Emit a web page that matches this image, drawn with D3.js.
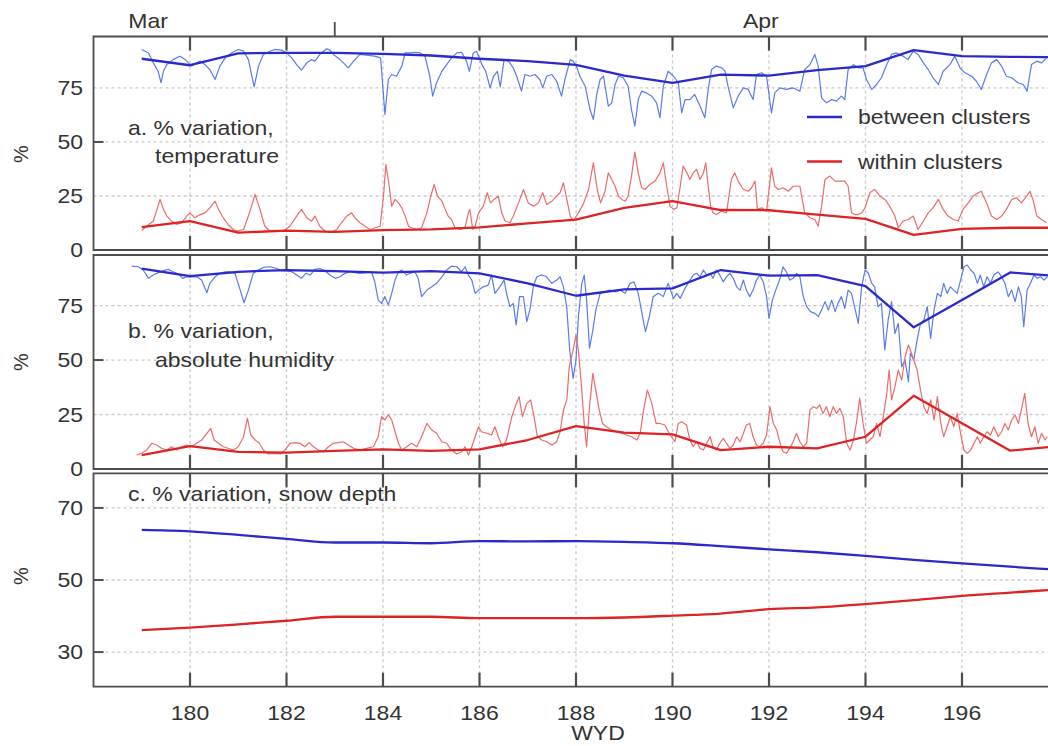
<!DOCTYPE html>
<html>
<head>
<meta charset="utf-8">
<script src="https://cdn.jsdelivr.net/npm/d3@7"></script>
<style>
  body { margin: 0; background: #fff; overflow: hidden; }
  text { font-family: "Liberation Sans", Arial, sans-serif; font-size: 20px; fill: #333; }
</style>
</head>
<body>
<script>
// ---- data ----
const dailyDays = [179, 180, 181, 182, 183, 184, 185, 186, 187, 188, 189, 190, 191, 192, 193, 194, 195, 196, 197, 198];
const xTicks = [180, 182, 184, 186, 188, 190, 192, 194, 196];
const monthTicks = [183];
const monthNames = ["Mar", "Apr"];
const monthNameDays = [178.72, 191.46];

// a. temperature
const tempBetweenDaily = [88.5, 85.5, 91.0, 91.2, 91.2, 90.8, 90.0, 88.5, 87.4, 85.7, 80.7, 77.3, 81.2, 80.7, 83.2, 85.1, 92.5, 89.7, 89.4, 89.2];
const tempWithinDaily = [10.6, 13.4, 8.0, 9.0, 8.4, 9.2, 9.5, 10.5, 12.3, 14.1, 19.5, 22.6, 18.5, 18.4, 16.4, 14.4, 7.0, 9.8, 10.3, 10.3];
const tempBetweenHourly = [
  [179.00,92.8],[179.14,91.2],[179.24,86.6],[179.34,82.7],[179.40,77.4],[179.45,82.7],[179.52,85.8],[179.65,88.1],[179.79,89.7],[179.90,88.1],[179.97,86.6],[180.03,85.1],[180.14,86.6],[180.21,87.4],[180.31,85.8],[180.41,83.5],[180.52,78.9],[180.62,85.1],[180.73,88.9],[180.86,91.2],[181.00,92.8],[181.11,92.0],[181.21,88.1],[181.33,75.5],[181.42,85.1],[181.52,90.5],[181.66,92.0],[181.76,92.8],[181.90,92.5],[182.00,91.2],[182.11,88.9],[182.21,85.8],[182.31,83.2],[182.42,86.6],[182.52,88.1],[182.59,87.4],[182.69,90.5],[182.83,93.1],[182.90,92.5],[182.97,90.5],[183.07,88.9],[183.18,86.6],[183.28,84.3],[183.39,87.4],[183.52,90.5],
  [183.83,89.7],[183.95,88.9],[184.04,62.7],[184.11,78.9],[184.18,81.2],[184.28,80.4],[184.39,85.1],[184.46,91.2],[184.56,91.2],[184.66,91.5],[184.77,91.2],[184.87,89.7],[184.97,80.4],[185.03,71.2],[185.11,77.4],[185.22,82.7],[185.32,85.8],[185.42,88.9],[185.53,91.2],[185.63,91.5],[185.73,87.4],[185.79,82.7],[185.87,91.2],[185.94,92.0],[186.05,85.8],[186.13,82.7],[186.22,75.0],[186.29,80.4],[186.37,82.7],[186.43,75.5],[186.51,88.1],[186.60,87.4],[186.70,84.3],[186.77,80.4],[186.87,73.5],[186.94,81.2],[187.05,80.4],[187.15,81.2],[187.25,78.9],[187.31,75.0],[187.39,80.4],[187.50,81.2],[187.60,78.1],[187.70,71.2],[187.77,78.9],[187.88,88.1],[187.94,87.4],[188.01,85.1],[188.08,80.4],[188.19,75.8],[188.29,65.0],[188.36,60.4],[188.43,72.0],[188.50,78.9],[188.57,80.4],[188.67,66.6],[188.74,68.1],[188.81,76.6],[188.88,80.4],[188.98,79.7],[189.08,75.8],[189.15,65.0],[189.22,57.3],[189.29,69.6],[189.36,73.5],[189.46,72.7],[189.57,71.2],[189.67,68.1],[189.74,61.2],[189.81,75.8],[189.91,82.7],[190.02,80.4],[190.12,77.4],[190.19,63.5],[190.26,69.6],
  [190.36,69.6],[190.46,72.0],[190.57,66.6],[190.67,61.2],[190.74,74.3],[190.81,83.5],[190.91,85.1],[191.02,84.3],[191.09,82.7],[191.15,75.8],[191.26,65.8],[191.36,71.2],[191.47,75.0],[191.57,74.3],[191.67,69.6],[191.74,81.2],[191.85,82.0],[191.95,80.4],[192.05,63.5],[192.12,72.7],[192.23,75.0],[192.36,74.3],[192.50,75.0],[192.64,73.5],[192.74,83.5],[192.85,85.8],[192.95,90.5],[193.02,85.1],[193.09,70.4],[193.19,68.1],[193.30,69.6],[193.40,68.9],[193.50,71.2],[193.57,69.6],[193.64,83.5],[193.75,85.8],[193.85,84.3],[193.95,84.3],[194.02,78.9],[194.13,74.3],[194.23,76.6],[194.33,79.7],[194.44,85.8],[194.54,90.5],[194.64,91.2],[194.78,89.7],[194.88,88.1],[194.99,92.0],[195.09,90.5],[195.20,86.6],[195.30,83.5],[195.40,79.7],[195.51,76.6],[195.61,82.7],[195.75,85.8],[195.85,89.7],[195.96,84.3],[196.06,82.0],[196.20,80.4],[196.30,78.1],[196.40,74.3],[196.51,81.2],[196.61,86.6],[196.72,88.1],[196.82,85.1],[196.92,80.4],[197.03,79.7],[197.16,77.4],[197.27,76.6],[197.35,73.5],[197.44,85.8],[197.55,87.4],[197.65,86.6],[197.75,88.9]
];
const tempWithinHourly = [
  [179.00,9.0],[179.10,11.0],[179.24,13.4],[179.38,23.4],[179.45,18.8],[179.52,15.7],[179.62,13.4],[179.72,11.8],[179.83,12.6],[179.93,15.7],[180.00,17.2],[180.10,14.9],[180.21,16.4],[180.31,17.2],[180.41,19.5],[180.52,22.6],[180.59,18.8],[180.69,14.9],[180.79,11.8],[180.90,9.5],[180.97,8.7],[181.11,9.5],[181.21,15.7],[181.35,25.7],[181.45,18.8],[181.55,11.0],[181.66,8.7],[181.80,8.7],[181.93,8.7],[182.07,11.0],[182.21,15.7],[182.31,18.8],[182.42,14.9],[182.52,13.4],[182.59,15.7],[182.69,11.0],[182.80,8.7],[182.90,8.0],[183.04,9.5],[183.14,12.6],[183.25,15.7],[183.35,17.2],[183.42,14.9],[183.52,12.6],
  [183.73,9.5],[183.94,11.0],[184.01,24.9],[184.06,39.6],[184.13,29.5],[184.18,20.3],[184.25,23.4],[184.32,21.8],[184.39,19.5],[184.46,15.7],[184.53,11.0],[184.59,10.3],[184.70,9.5],[184.80,10.3],[184.91,17.2],[184.99,24.9],[185.06,30.3],[185.13,24.9],[185.22,22.6],[185.29,18.8],[185.35,15.7],[185.42,14.1],[185.49,10.3],[185.60,9.5],[185.70,10.3],[185.77,17.2],[185.80,18.8],[185.86,9.5],[185.91,11.0],[185.98,17.2],[186.08,20.3],[186.16,26.5],[186.23,21.8],[186.30,23.4],[186.39,24.9],[186.46,17.2],[186.53,13.4],[186.63,12.6],[186.70,15.7],[186.81,21.8],[186.91,28.0],[187.01,21.8],[187.12,20.3],[187.22,21.8],[187.31,26.5],[187.39,21.1],[187.50,22.6],[187.60,24.9],[187.67,26.5],[187.74,31.1],[187.81,23.4],[187.88,15.7],[187.94,13.4],[188.05,17.2],[188.15,21.1],[188.26,28.0],[188.36,40.3],[188.44,28.0],[188.51,21.8],[188.60,27.2],[188.67,35.7],[188.74,32.6],[188.81,29.5],[188.88,24.9],[188.95,23.4],[189.02,22.6],[189.08,24.9],[189.15,34.2],[189.22,45.3],[189.29,35.7],[189.36,28.8],[189.43,28.0],[189.53,30.3],[189.64,31.9],[189.74,35.7],[189.81,40.3],[189.88,29.5],[189.95,20.3],[190.02,18.8],[190.09,19.5],[190.16,29.5],[190.22,38.8],[190.30,35.7],
  [190.36,32.6],[190.43,35.7],[190.50,37.3],[190.57,32.6],[190.64,35.7],[190.69,40.3],[190.74,29.5],[190.79,20.3],[190.84,17.2],[190.91,16.4],[191.02,18.0],[191.12,17.2],[191.18,26.5],[191.22,32.6],[191.29,35.7],[191.36,31.9],[191.47,28.0],[191.57,27.2],[191.64,28.8],[191.71,31.9],[191.76,18.8],[191.85,19.5],[191.95,18.0],[192.05,38.0],[192.12,29.5],[192.19,28.0],[192.29,28.8],[192.40,27.2],[192.50,29.5],[192.64,29.5],[192.74,17.2],[192.85,14.9],[192.95,14.1],[193.02,11.0],[193.09,20.3],[193.16,32.6],[193.26,34.2],[193.37,31.9],[193.47,31.9],[193.57,31.9],[193.64,29.5],[193.71,17.2],[193.78,16.4],[193.85,16.4],[193.92,17.2],[193.99,19.5],[194.09,26.5],[194.19,28.0],[194.30,24.9],[194.40,23.4],[194.50,20.3],[194.61,15.7],[194.68,10.3],[194.78,13.4],[194.89,14.1],[194.99,15.7],[195.09,9.5],[195.20,13.4],[195.30,17.2],[195.40,19.5],[195.51,23.4],[195.61,18.8],[195.71,15.7],[195.82,14.1],[195.92,13.4],[196.02,18.8],[196.13,21.8],[196.23,24.9],[196.34,26.5],[196.40,27.2],[196.51,21.8],[196.61,15.7],[196.72,14.1],[196.82,15.7],[196.92,18.8],[197.03,23.4],[197.13,24.2],[197.23,21.8],[197.34,24.9],[197.41,27.2],[197.48,22.6],[197.55,15.7],[197.65,14.1],[197.75,12.6]
];

// b. absolute humidity
const humidBetweenDaily = [92.0, 88.5, 90.5, 91.3, 90.8, 90.1, 90.8, 89.8, 85.2, 79.5, 82.4, 82.9, 91.3, 88.7, 89.0, 83.9, 65.0, 77.5, 90.2, 88.5];
const humidWithinDaily = [6.4, 10.5, 7.9, 7.5, 8.3, 9.0, 8.3, 9.0, 13.3, 19.7, 16.7, 15.9, 8.7, 10.2, 9.5, 14.8, 33.6, 21.0, 8.4, 10.5];
const humidBetweenHourly = [
  [178.79,93.1],[178.93,92.8],[179.03,91.3],[179.14,87.5],[179.24,89.0],[179.34,90.1],[179.45,91.0],[179.55,91.6],[179.65,90.5],[179.76,89.5],[179.85,87.5],[179.93,88.2],[180.03,88.2],[180.14,88.2],[180.24,86.7],[180.35,80.9],[180.41,85.2],[180.52,88.2],[180.62,89.8],[180.73,90.5],[180.83,90.5],[180.93,89.8],[181.02,83.6],[181.12,76.3],[181.21,82.1],[181.31,89.8],[181.42,91.3],[181.52,92.5],[181.66,92.8],[181.80,92.0],[181.90,91.0],[182.00,91.0],[182.11,90.5],[182.21,89.0],[182.31,87.5],[182.40,89.8],[182.49,89.0],[182.59,91.6],[182.69,92.0],[182.80,91.0],[182.90,89.0],[183.01,87.5],[183.11,88.2],[183.21,89.8],[183.32,90.5],[183.42,90.1],[183.52,89.8],
  [183.66,90.1],[183.76,90.5],[183.83,85.9],[183.90,77.5],[183.97,76.0],[184.04,79.1],[184.11,75.2],[184.18,80.6],[184.25,86.7],[184.32,90.5],[184.39,91.3],[184.49,89.0],[184.56,89.8],[184.66,90.5],[184.73,87.5],[184.80,79.1],[184.91,82.1],[185.01,83.6],[185.11,85.2],[185.22,88.2],[185.32,91.3],[185.42,93.1],[185.53,92.8],[185.63,90.5],[185.70,92.8],[185.77,89.0],[185.84,86.7],[185.91,80.6],[185.98,82.1],[186.08,83.6],[186.18,84.4],[186.25,89.0],[186.32,80.6],[186.42,83.6],[186.51,86.7],[186.56,80.6],[186.63,74.5],[186.70,76.0],[186.76,66.1],[186.83,79.1],[186.91,79.1],[186.98,67.6],[187.05,73.7],[187.12,84.4],[187.19,88.2],[187.29,89.0],[187.39,88.2],[187.50,85.2],[187.60,86.7],[187.67,88.2],[187.74,83.6],[187.81,73.7],[187.87,54.6],[187.94,41.6],[188.00,50.0],[188.05,69.9],[188.12,85.2],[188.17,89.0],[188.22,77.5],[188.28,55.4],[188.35,63.8],[188.41,72.9],[188.50,80.6],[188.60,81.3],[188.70,82.1],[188.81,81.3],[188.91,82.1],[189.02,80.6],[189.12,85.2],[189.20,85.9],[189.29,80.6],[189.38,69.9],[189.44,63.0],[189.52,69.9],[189.60,79.1],[189.71,80.6],[189.81,79.1],[189.91,85.2],[190.02,78.3],[190.09,80.6],[190.16,78.3],[190.26,82.9],
  [190.36,86.7],[190.43,89.0],[190.50,89.8],[190.57,88.2],[190.64,91.3],[190.71,89.0],[190.78,89.8],[190.84,87.5],[190.91,91.3],[190.98,89.0],[191.05,85.9],[191.12,88.2],[191.19,89.8],[191.26,87.5],[191.33,83.6],[191.40,82.1],[191.47,86.7],[191.53,82.1],[191.60,79.1],[191.67,82.1],[191.74,86.7],[191.81,89.0],[191.88,85.9],[191.95,79.1],[192.00,69.1],[192.07,77.5],[192.14,82.1],[192.23,87.5],[192.29,92.8],[192.36,90.5],[192.43,86.7],[192.50,87.5],[192.57,89.8],[192.64,88.2],[192.71,79.1],[192.78,74.5],[192.86,72.2],[192.95,71.4],[193.02,69.9],[193.09,72.9],[193.16,76.8],[193.23,72.9],[193.30,77.5],[193.37,72.2],[193.43,76.0],[193.50,79.1],[193.57,73.7],[193.64,82.1],[193.71,80.6],[193.78,73.7],[193.85,66.8],[193.92,83.6],[193.99,91.3],[194.06,89.8],[194.13,85.2],[194.19,83.6],[194.26,74.5],[194.33,76.0],[194.40,54.6],[194.47,68.4],[194.54,76.8],[194.61,62.2],[194.68,66.8],[194.75,46.9],[194.82,50.0],[194.89,40.1],[194.93,53.1],[195.00,50.0],[195.07,59.2],[195.14,66.8],[195.21,68.4],[195.28,74.5],[195.35,59.9],[195.42,72.9],[195.49,80.6],[195.56,79.1],[195.62,85.2],[195.69,80.6],[195.76,83.6],[195.83,82.1],[195.90,80.6],[195.97,86.7],[196.04,92.8],[196.11,93.6],[196.18,91.3],[196.25,89.8],[196.32,85.2],[196.38,89.0],[196.45,83.6],[196.52,88.2],[196.59,85.2],[196.66,89.0],[196.75,90.5],[196.82,88.2],[196.89,85.2],[196.96,79.1],[197.03,82.1],[197.10,76.8],[197.17,83.6],[197.23,79.1],[197.28,65.3],[197.35,82.1],[197.42,85.2],[197.49,89.0],[197.56,87.5],[197.63,88.2],[197.70,86.7],[197.77,88.2]
];
const humidWithinHourly = [
  [178.89,6.4],[179.00,7.2],[179.10,8.7],[179.21,11.8],[179.31,11.0],[179.41,9.5],[179.52,8.7],[179.62,10.2],[179.72,8.7],[179.83,10.2],[179.93,11.0],[180.03,10.2],[180.14,11.8],[180.24,13.3],[180.35,16.4],[180.43,18.6],[180.50,13.3],[180.59,11.8],[180.69,10.2],[180.79,9.5],[180.90,8.7],[181.00,10.2],[181.11,14.8],[181.19,23.2],[181.26,15.6],[181.35,13.3],[181.44,11.8],[181.52,8.7],[181.62,6.9],[181.73,7.2],[181.87,6.9],[181.97,8.7],[182.07,11.8],[182.18,12.1],[182.28,11.8],[182.38,10.2],[182.47,12.1],[182.56,10.2],[182.66,8.7],[182.76,7.9],[182.87,10.2],[182.97,11.8],[183.07,12.1],[183.18,12.5],[183.28,11.0],[183.39,9.5],[183.52,8.7],
  [183.66,9.5],[183.80,10.2],[183.90,14.8],[183.97,24.0],[184.04,22.5],[184.11,24.8],[184.18,22.5],[184.25,17.1],[184.32,11.8],[184.39,8.7],[184.49,10.2],[184.59,11.8],[184.70,10.2],[184.80,14.8],[184.91,20.9],[185.01,17.9],[185.11,16.4],[185.22,12.5],[185.32,11.8],[185.42,8.7],[185.53,6.9],[185.63,7.9],[185.70,10.2],[185.77,6.4],[185.84,10.2],[185.91,14.8],[185.98,19.4],[186.04,17.1],[186.15,16.4],[186.25,15.6],[186.32,19.4],[186.39,14.8],[186.48,10.2],[186.56,13.3],[186.67,24.0],[186.74,28.6],[186.82,33.2],[186.89,24.0],[186.98,30.1],[187.06,31.7],[187.13,24.0],[187.20,14.8],[187.29,13.3],[187.39,12.5],[187.50,11.0],[187.60,12.5],[187.67,17.1],[187.74,27.1],[187.81,31.7],[187.86,46.9],[187.94,54.6],[188.00,61.5],[188.05,54.6],[188.12,36.2],[188.17,20.9],[188.22,10.2],[188.28,28.6],[188.35,43.9],[188.41,36.2],[188.48,27.1],[188.55,20.9],[188.63,19.4],[188.74,17.9],[188.84,17.1],[188.95,16.4],[189.05,15.6],[189.15,14.8],[189.26,13.3],[189.33,16.4],[189.40,27.1],[189.48,36.2],[189.57,30.1],[189.66,20.9],[189.74,20.9],[189.84,20.2],[189.95,15.6],[190.05,12.5],[190.12,20.9],[190.19,21.7],[190.29,20.2],
  [190.36,13.3],[190.43,10.2],[190.50,12.5],[190.57,9.5],[190.64,8.7],[190.71,11.8],[190.78,14.8],[190.84,10.2],[190.91,8.7],[190.98,11.8],[191.05,14.1],[191.12,11.8],[191.19,9.5],[191.26,11.0],[191.33,14.8],[191.40,12.5],[191.47,16.4],[191.53,20.2],[191.60,20.9],[191.67,14.8],[191.74,11.0],[191.81,10.2],[191.88,11.8],[191.95,15.6],[192.02,28.6],[192.09,20.9],[192.16,17.9],[192.23,11.8],[192.29,7.9],[192.36,7.2],[192.43,9.5],[192.50,12.5],[192.57,16.4],[192.64,12.5],[192.71,10.2],[192.78,11.8],[192.85,27.1],[192.92,28.6],[192.99,27.8],[193.05,29.4],[193.12,25.5],[193.19,28.6],[193.26,24.0],[193.33,28.6],[193.40,25.5],[193.47,27.8],[193.54,24.0],[193.61,11.8],[193.68,8.7],[193.75,13.3],[193.81,20.9],[193.88,32.4],[193.95,20.9],[194.02,11.8],[194.09,13.3],[194.16,14.8],[194.23,20.9],[194.30,14.8],[194.37,24.0],[194.44,34.7],[194.49,45.4],[194.54,31.7],[194.61,37.8],[194.68,45.4],[194.75,40.8],[194.82,51.5],[194.89,56.9],[194.93,54.6],[195.00,50.0],[195.07,45.4],[195.14,36.2],[195.21,28.6],[195.28,25.5],[195.35,31.7],[195.42,22.5],[195.49,33.2],[195.56,20.9],[195.62,14.8],[195.69,19.4],[195.76,24.0],[195.83,19.4],[195.90,25.5],[195.97,16.4],[196.04,8.7],[196.11,7.2],[196.18,8.7],[196.25,11.8],[196.32,14.8],[196.38,11.8],[196.45,14.8],[196.52,17.1],[196.59,15.6],[196.66,19.4],[196.75,14.8],[196.82,17.1],[196.89,20.9],[196.96,17.9],[197.03,22.5],[197.10,24.8],[197.17,20.9],[197.23,27.1],[197.30,34.7],[197.37,20.9],[197.44,14.8],[197.51,19.4],[197.58,11.8],[197.65,16.4],[197.72,13.3],[197.77,14.8]
];

// c. snow depth
const snowBetweenDaily = [63.9, 63.5, 62.5, 61.4, 60.4, 60.4, 60.2, 60.8, 60.7, 60.8, 60.6, 60.2, 59.4, 58.5, 57.7, 56.7, 55.6, 54.6, 53.7, 52.8];
const snowWithinDaily = [36.1, 36.8, 37.7, 38.7, 39.8, 39.8, 39.8, 39.4, 39.4, 39.4, 39.6, 40.1, 40.7, 41.9, 42.4, 43.3, 44.4, 45.6, 46.5, 47.4];

const legendNames = ["between clusters", "within clusters"];

// ---- styles ----
const blueDaily = "#2a2acc", blueHourly = "#5a7bec";
const redDaily = "#dd2424", redHourly = "#ec6b6b";
const frameColor = "#4d4d4d", gridColor = "#c9c9c9";

const width = 1048, height = 746;
const svg = d3.select("body").append("svg")
    .attr("width", width)
    .attr("height", height);

const xScale = d3.scaleLinear().domain([178, 198]).range([93.5, 1058.5]);
const left = xScale.range()[0];

function daily(values) { return dailyDays.map((d, i) => [d, values[i]]); }

const panels = [
    {id: "a", top: 36.5, bottom: 250, domain: [0, 98.8], labels: [0, 25, 50, 75], grid: [25, 50, 75], marks: [50],
     labelY: 154, title: ["a. % variation,", "temperature"], titleY: [135, 163], curve: d3.curveLinear,
     hourly: [[tempBetweenHourly, blueHourly], [tempWithinHourly, redHourly]],
     daily: [[daily(tempBetweenDaily), blueDaily], [daily(tempWithinDaily), redDaily]]},
    {id: "b", top: 255, bottom: 469, domain: [0, 98.2], labels: [0, 25, 50, 75], grid: [25, 50, 75], marks: [50],
     labelY: 362, title: ["b. % variation,", "absolute humidity"], titleY: [338, 367], curve: d3.curveLinear,
     hourly: [[humidBetweenHourly, blueHourly], [humidWithinHourly, redHourly]],
     daily: [[daily(humidBetweenDaily), blueDaily], [daily(humidWithinDaily), redDaily]]},
    {id: "c", top: 473.3, bottom: 686.7, domain: [20.4, 79.6], labels: [30, 50, 70], grid: [30, 50, 70], marks: [30, 50, 70],
     labelY: 576, title: ["c. % variation, snow depth"], titleY: [501], curve: d3.curveMonotoneX,
     hourly: [],
     daily: [[daily(snowBetweenDaily), blueDaily], [daily(snowWithinDaily), redDaily]]}
];

// text is a bit wide in the source, so stretch it horizontally
function label(g, x, y, str, anchor) {
    return g.append("text")
        .attr("transform", "translate(" + x + "," + y + ") scale(1.15,1)")
        .attr("text-anchor", anchor || "start")
        .text(str);
}

function renderPanel(p) {
    const g = svg.append("g").attr("class", "panel-" + p.id);
    const yScale = d3.scaleLinear().domain(p.domain).range([p.bottom, p.top]);

    g.append("clipPath").attr("id", "clip-" + p.id)
        .append("rect")
        .attr("x", left).attr("y", p.top)
        .attr("width", width - left).attr("height", p.bottom - p.top);

    // dotted grid
    g.selectAll("line.hgrid").data(p.grid).enter().append("line")
        .attr("class", "hgrid")
        .attr("x1", left).attr("x2", width)
        .attr("y1", (d) => yScale(d)).attr("y2", (d) => yScale(d))
        .attr("stroke", gridColor).attr("stroke-width", 1.3)
        .attr("stroke-dasharray", "3,3");
    g.selectAll("line.vgrid").data(xTicks).enter().append("line")
        .attr("class", "vgrid")
        .attr("x1", (d) => xScale(d)).attr("x2", (d) => xScale(d))
        .attr("y1", p.top).attr("y2", p.bottom)
        .attr("stroke", gridColor).attr("stroke-width", 1.3)
        .attr("stroke-dasharray", "3,3");

    const plot = g.append("g").attr("clip-path", "url(#clip-" + p.id + ")");

    p.hourly.forEach(([rows, color]) => {
        plot.append("path")
            .datum(rows)
            .attr("fill", "none")
            .attr("stroke", color)
            .attr("stroke-width", 1.2)
            .attr("stroke-linejoin", "round")
            .attr("d", d3.line().x((d) => xScale(d[0])).y((d) => yScale(d[1])));
    });
    p.daily.forEach(([rows, color]) => {
        plot.append("path")
            .datum(rows)
            .attr("fill", "none")
            .attr("stroke", color)
            .attr("stroke-width", 2.3)
            .attr("stroke-linejoin", "round")
            .attr("d", d3.line().curve(p.curve).x((d) => xScale(d[0])).y((d) => yScale(d[1])));
    });

    // frame (right side falls outside the picture)
    g.append("path")
        .attr("d", "M" + width + "," + p.top + "H" + left + "V" + p.bottom + "H" + width)
        .attr("fill", "none")
        .attr("stroke", frameColor)
        .attr("stroke-width", 1.8);

    // inward tick marks
    const tickLen = 14;
    g.selectAll("line.xtick-top").data(xTicks).enter().append("line")
        .attr("x1", (d) => xScale(d)).attr("x2", (d) => xScale(d))
        .attr("y1", p.top).attr("y2", p.top + tickLen)
        .attr("stroke", frameColor).attr("stroke-width", 2.2);
    g.selectAll("line.xtick-bottom").data(xTicks).enter().append("line")
        .attr("x1", (d) => xScale(d)).attr("x2", (d) => xScale(d))
        .attr("y1", p.bottom - tickLen).attr("y2", p.bottom)
        .attr("stroke", frameColor).attr("stroke-width", 2.2);
    g.selectAll("line.ytick").data(p.marks).enter().append("line")
        .attr("x1", left).attr("x2", left + 10)
        .attr("y1", (d) => yScale(d)).attr("y2", (d) => yScale(d))
        .attr("stroke", frameColor).attr("stroke-width", 2);

    // tick labels
    p.labels.forEach((v) => label(g, 83, yScale(v) + 7, String(v), "end"));

    g.append("text")
        .attr("transform", "translate(21," + p.labelY + ") rotate(-90)")
        .attr("text-anchor", "middle")
        .attr("dy", "0.35em")
        .text("%");

    p.title.forEach((t, i) => label(g, i === 0 ? 128 : 155, p.titleY[i], t));

    return yScale;
}

panels.forEach(renderPanel);

// x tick labels and axis title
xTicks.forEach((d) => label(svg, xScale(d), 720, String(d), "middle"));
label(svg, 598, 740, "WYD", "middle");

// month axis along the top
svg.selectAll("line.month").data(monthTicks).enter().append("line")
    .attr("x1", (d) => xScale(d)).attr("x2", (d) => xScale(d))
    .attr("y1", 22).attr("y2", panels[0].top)
    .attr("stroke", frameColor).attr("stroke-width", 1.8);
monthNames.forEach((m, i) => label(svg, xScale(monthNameDays[i]), 28, m));

// legend in panel a
const legendColors = [blueDaily, redDaily];
const legendY = [117, 161.5];
legendNames.forEach((name, i) => {
    svg.append("line")
        .attr("x1", 807).attr("x2", 842)
        .attr("y1", legendY[i]).attr("y2", legendY[i])
        .attr("stroke", legendColors[i]).attr("stroke-width", 2.3);
    label(svg, 858, legendY[i] + 7, name);
});
</script>
</body>
</html>
